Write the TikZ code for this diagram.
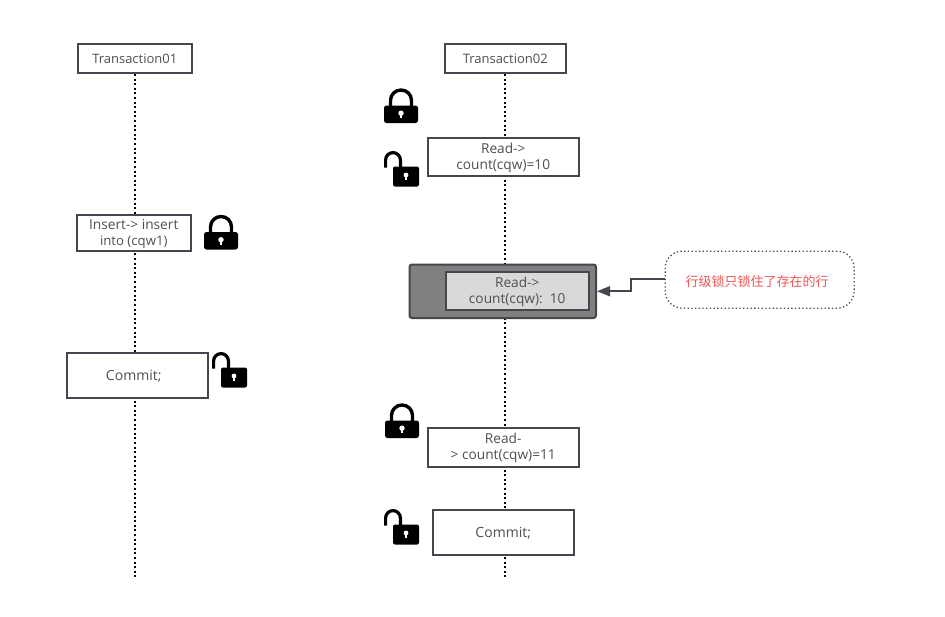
\documentclass[tikz,border=0pt]{standalone}
\usepackage{fontspec}
\setmainfont{Open Sans}
\newfontfamily\cjkfont{Noto Sans CJK SC}
\usetikzlibrary{arrows.meta}
\definecolor{edgegrey}{HTML}{44484E}
\definecolor{textgrey}{HTML}{505050}
\definecolor{notered}{HTML}{F25555}
% First line of a label: extra headroom sets the text slightly below the box centre
\newcommand{\lbl}[2][13]{\raisebox{0pt}[\dimexpr\height+2pt\relax][\depth]{\fontsize{#1}{15.8}\selectfont #2}}
\newcommand{\lblb}[2][13.7]{{\fontsize{#1}{15.8}\selectfont #2}}
\tikzset{
  x=1pt,y=-1pt,
  every node/.style={font=\fontsize{13}{15.8}\selectfont,text=textgrey,align=center,inner sep=0pt},
  msgbox/.style={draw=edgegrey,line width=2pt,fill=white,minimum width=#1,anchor=north west},
  lifeline/.style={black,line width=2pt,dash pattern=on 2pt off 2.6pt},
  pics/closedlock/.style={code={
    \draw[black,line width=3.4pt] (-10.5,2) -- (-10.5,-5) arc[start angle=180,end angle=0,x radius=10.5,y radius=-10.5] -- (10.5,2);
    \fill[black,rounded corners=2.5pt] (-17,0) rectangle (17,17.5);
    \fill[white] (0,7.7) circle (2.7);
    \fill[white] (-1.2,8) rectangle (1.2,12.5);
  }},
  pics/openlock/.style={code={
    \draw[black,line width=3.2pt] (-33.4,15) -- (-33.4,7.5) arc[start angle=180,end angle=0,x radius=7.4,y radius=-7.4] -- (-18.6,15);
    \fill[black,rounded corners=2pt] (-26,14) rectangle (0,34);
    \fill[white] (-13,22.5) circle (2.4);
    \fill[white] (-14,23) rectangle (-12,27.5);
  }}
}
\begin{document}
\begin{tikzpicture}
\useasboundingbox (0,0) rectangle (945,616);
\begin{scope}[shift={(-0.5,-0.5)}]

% Lifeline ends and heads
\coordinate (endA) at (135,577);
\coordinate (endB) at (505.5,577);
\node[msgbox=114.5pt,minimum height=29.5pt] (txA) at (77,43) {\lbl{Transaction01}};
\node[msgbox=121.5pt,minimum height=29.5pt] (txB) at (444,43) {\lbl{Transaction02}};

\draw[lifeline] (txA.south -| endA) -- (endA);
\draw[lifeline] (txB.south -| endB) -- (endB);

% Transaction01 steps
\node[msgbox=114.5pt,minimum height=36.5pt] (insertA) at (76,214) {\lbl[13.7]{Insert-> insert}\\\lblb[13.2]{into (cqw1)}\hspace{3pt}};
\node[msgbox=141.5pt,minimum height=45.5pt] (commitA) at (66,352) {\lbl[14]{Commit;}\hspace{7pt}};

% Transaction02 steps
\node[msgbox=151.5pt,minimum height=38.5pt] (readB) at (427,137) {\lbl[13.7]{Read->}\\\lblb{count(cqw)=10}};
\node[draw=edgegrey,line width=2pt,fill=black!50,rounded corners=2.5pt,minimum width=186.5pt,minimum height=53.5pt,anchor=north west] (blocked) at (409,264) {};
\node[msgbox=143.5pt,minimum height=38.5pt,fill=black!15] (readC) at (445,271) {\lbl[13.7]{Read->}\\\lblb{count(cqw):\ \ 10}};
\node[msgbox=151.5pt,minimum height=39.5pt] (readD) at (427,427) {\lbl[13.7]{Read-}\\\lblb{> count(cqw)=11}};
\node[msgbox=141.5pt,minimum height=45.5pt] (commitB) at (432,509) {\lbl[14]{Commit;}};

% Annotation on the blocked read
\node[draw=edgegrey,line width=1.3pt,dash pattern=on 1.3pt off 2.4pt,fill=white,rounded corners=17pt,minimum width=189pt,minimum height=57pt,anchor=north west,text=notered,font=\cjkfont\fontsize{13}{15}\selectfont] (note) at (665,251) {\raisebox{0pt}[\dimexpr\height+3pt\relax][\depth]{行级锁只锁住了存在的行}\hspace{5pt}};
\coordinate (elbow) at (631,279);
\draw[edgegrey,line width=2pt,-{Stealth[length=13pt,width=10pt,inset=0pt]}] (note.west |- elbow) -- (elbow) -- (elbow |- blocked.east) -- (blocked.east);

% Lock and unlock markers
\pic at (401.5,106) {closedlock};
\pic at (221.5,232.5) {closedlock};
\pic at (402.5,421) {closedlock};
\pic at (419.5,153) {openlock};
\pic at (247.5,354) {openlock};
\pic at (419.5,511) {openlock};
\end{scope}
\end{tikzpicture}
\end{document}
